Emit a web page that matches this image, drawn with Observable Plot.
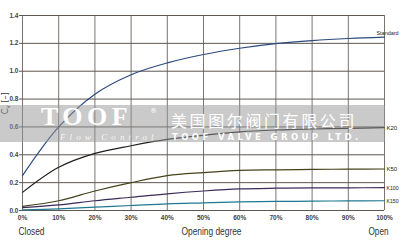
<!DOCTYPE html>
<html>
<head>
<meta charset="utf-8">
<script src="https://cdn.jsdelivr.net/npm/d3@7"></script>
<script src="https://cdn.jsdelivr.net/npm/@observablehq/plot@0.6"></script>
<style>
  html, body { margin: 0; padding: 0; background: #fff; }
  #wrap { position: relative; width: 400px; height: 248px; overflow: hidden; }
  #band { position: absolute; left: 0; top: 105px; width: 385px; height: 37px;
          background: rgba(150,150,150,0.5); pointer-events: none; }
  .wm { position: absolute; color: #fff; white-space: nowrap; line-height: 1; }
  #ylab { position: absolute; left: -9px; top: 98px; width: 30px; text-align: center;
          transform: rotate(-90deg); font: 8px 'DejaVu Sans', sans-serif; color: #333; white-space: nowrap; }
</style>
</head>
<body>
<div id="wrap">
  <div id="chart"></div>
  <div id="ylab">C<sub style="font-size:6px">v</sub> [–]</div>
  <div id="band">
    <div class="wm" style="left:41px;top:-1px;font:bold 26px 'Liberation Serif',serif;letter-spacing:4.5px;line-height:26px;">TOOF</div>
    <div class="wm" style="left:150px;top:2px;font:7px 'DejaVu Sans',sans-serif;">®</div>
    <div class="wm" style="left:60px;top:28px;font:italic 9px 'Liberation Serif',serif;letter-spacing:4.1px;line-height:9px;color:rgba(255,255,255,0.85);">Flow Control</div>
    <div class="wm" style="left:171px;top:3px;font:16px 'Noto Sans CJK SC',sans-serif;letter-spacing:2.6px;">美国图尔阀门有限公司</div>
    <div class="wm" style="left:172px;top:27px;font:bold 8.5px 'DejaVu Sans',sans-serif;letter-spacing:3.4px;">TOOF VALVE GROUP LTD.</div>
  </div>
</div>
<script>
const opening  = [0, 10, 20, 30, 40, 50, 60, 70, 80, 90, 100];
const standard = [0.25, 0.60, 0.835, 0.975, 1.06, 1.12, 1.165, 1.198, 1.22, 1.235, 1.245];
const k20      = [0.13, 0.31, 0.41, 0.465, 0.51, 0.54, 0.565, 0.578, 0.585, 0.59, 0.595];
const k50      = [0.03, 0.07, 0.14, 0.20, 0.25, 0.272, 0.288, 0.292, 0.295, 0.297, 0.298];
const k100     = [0.02, 0.04, 0.07, 0.095, 0.12, 0.14, 0.155, 0.16, 0.162, 0.163, 0.164];
const k150     = [0.004, 0.012, 0.024, 0.036, 0.048, 0.055, 0.062, 0.065, 0.067, 0.069, 0.07];
const seriesNames  = ["Standard", "K20", "K50", "K100", "K150"];
const seriesValues = [standard, k20, k50, k100, k150];
const seriesColors = ["#2b4a7c", "#1e1e1e", "#45431c", "#3b2a58", "#1f7892"];
const xTicks = [0, 10, 20, 30, 40, 50, 60, 70, 80, 90, 100];
const yTicks = [0, 0.2, 0.4, 0.6, 0.8, 1.0, 1.2, 1.4];

const rows = [];
seriesNames.forEach((name, s) => {
  opening.forEach((o, i) => rows.push({series: name, x: o, y: seriesValues[s][i]}));
});
const ends = seriesNames.map((name, s) => ({series: name, x: 100, y: seriesValues[s][seriesValues[s].length - 1]}));
const font = "'Liberation Sans',Arial,sans-serif";

const chart = Plot.plot({
  width: 400,
  height: 248,
  marginLeft: 22,
  marginRight: 16,
  marginTop: 15,
  marginBottom: 38,
  style: {fontFamily: font, fontSize: "6.5px", color: "#333", background: "transparent"},
  x: {domain: [0, 100], label: null},
  y: {domain: [0, 1.4], label: null},
  color: {domain: seriesNames, range: seriesColors},
  marks: [
    Plot.gridX(xTicks, {stroke: "#7a736d", strokeOpacity: 1, strokeWidth: 1}),
    Plot.gridY(yTicks, {stroke: "#5e5752", strokeOpacity: 1, strokeWidth: 1}),
    Plot.axisX({ticks: xTicks, tickFormat: d => d + "%", tickSize: 0, tickPadding: 5, fontWeight: "bold", fill: "#444", fontSize: 6.5}),
    Plot.axisY({ticks: yTicks, tickFormat: d => d.toFixed(1), tickSize: 3, tickPadding: 1, stroke: "#5e5752", fontWeight: "bold", fill: "#444", fontSize: 6.5}),
    Plot.line(rows, {x: "x", y: "y", z: "series", stroke: "series", strokeWidth: 1.2, curve: "catmull-rom"}),
    Plot.text(ends.filter(d => d.series !== "Standard"), {x: "x", y: "y", text: "series", textAnchor: "start", dx: 2, fontSize: 6, fill: "#222"}),
    Plot.text(ends.filter(d => d.series === "Standard"), {x: "x", y: "y", text: "series", textAnchor: "start", dx: -8, dy: -4, fontSize: 6, fill: "#222"}),
    Plot.text(["Closed"], {x: 0, y: 0, text: d => d, textAnchor: "start", dx: -4, dy: 21, fontSize: 10.5, fill: "#333"}),
    Plot.text(["Opening degree"], {x: 50, y: 0, text: d => d, textAnchor: "middle", dx: 8, dy: 21, fontSize: 10.5, fill: "#333"}),
    Plot.text(["Open"], {x: 100, y: 0, text: d => d, textAnchor: "end", dx: 4, dy: 21, fontSize: 10.5, fill: "#333"})
  ]
});
document.getElementById("chart").appendChild(chart);
// condense the wide labels to mimic the narrow face of the original
const narrowLen = {"Closed": 26, "Opening degree": 60, "Open": 20, "Standard": 22, "K100": 12, "K150": 12};
d3.select(chart).selectAll("text").each(function() {
  const t = this.textContent;
  if (narrowLen[t]) { this.setAttribute("textLength", narrowLen[t]); this.setAttribute("lengthAdjust", "spacingAndGlyphs"); }
});
</script>
</body>
</html>
